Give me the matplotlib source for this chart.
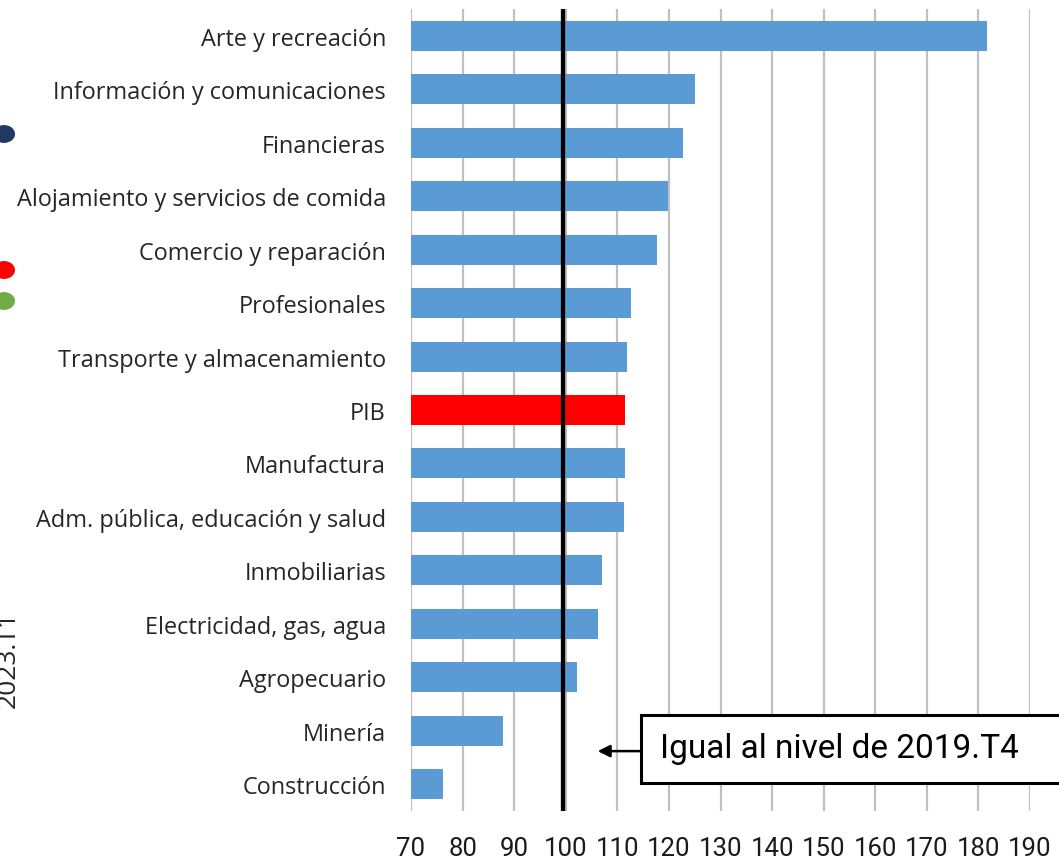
import matplotlib.pyplot as plt
from matplotlib.patches import Rectangle, Circle

# Datos (indice, 2019.T4 = 100)
sectores = ['Arte y recreación', 'Información y comunicaciones', 'Financieras',
            'Alojamiento y servicios de comida', 'Comercio y reparación',
            'Profesionales', 'Transporte y almacenamiento', 'PIB', 'Manufactura',
            'Adm. pública, educación y salud', 'Inmobiliarias',
            'Electricidad, gas, agua', 'Agropecuario', 'Minería', 'Construcción']
valores = [181.7, 125.1, 122.8, 119.8, 117.6, 112.7, 111.8, 111.5, 111.5,
           111.3, 107.0, 106.3, 102.1, 87.9, 76.2]
ticks_x = [70, 80, 90, 100, 110, 120, 130, 140, 150, 160, 170, 180, 190]
nivel_base = 99.45

W, H = 1059, 862
fig = plt.figure(figsize=(W / 100, H / 100), dpi=100)
ax = fig.add_axes([411 / W, (H - 812) / H, 619 / W, 802 / H])

colores = ['#ff0000' if s == 'PIB' else '#5b9bd5' for s in sectores]
ax.barh(range(len(sectores)), valores, height=0.56, color=colores, zorder=2)
ax.axvline(nivel_base, color='black', lw=3.1, zorder=3)

ax.set_xlim(70, 190)
ax.set_ylim(len(sectores) - 0.5, -0.5)
ax.set_xticks(ticks_x)
ax.set_xticklabels([str(t) for t in ticks_x],
                   family=['Roboto', 'DejaVu Sans'], fontsize=18.5, color='#1a1a1a')
ax.set_yticks(range(len(sectores)))
ax.set_yticklabels(sectores, family=['Open Sans', 'DejaVu Sans'], fontsize=16.9,
                   color='#262626')
ax.tick_params(axis='both', length=0)
ax.tick_params(axis='x', pad=18)
ax.tick_params(axis='y', pad=18)
ax.grid(axis='x', color='#c0c0c0', lw=1.6, zorder=0)
for s in ax.spines.values():
    s.set_visible(False)

# Recuadro con flecha
ax.add_patch(Rectangle((114.6, 12.7), 90, 1.27, facecolor='white',
                       edgecolor='black', lw=2.2, clip_on=False, zorder=5))
ax.annotate('', xy=(106.2, 13.38), xytext=(114.6, 13.38),
            arrowprops=dict(arrowstyle='-|>', color='black', lw=1.8,
                            mutation_scale=18, shrinkA=0, shrinkB=0),
            zorder=6, annotation_clip=False)
ax.text(118.3, 13.33, 'Igual al nivel de 2019.T4', va='center', ha='left',
        family=['Roboto', 'DejaVu Sans'], fontsize=24,
        zorder=7, clip_on=False)

# Restos de la diapositiva a la izquierda
for yy, c in [(135, '#1f3864'), (271, '#ff0000'), (302, '#70ad47')]:
    fig.patches.append(Circle((4 / W, (H - yy) / H), 11 / W, facecolor=c,
                              edgecolor='none', transform=fig.transFigure))
fig.text(8 / W, (H - 660) / H, '2023.T1', rotation=90, ha='center', va='center',
         family=['Open Sans', 'DejaVu Sans'], fontsize=19, color='#262626')

fig.savefig('out.png', dpi=100)
